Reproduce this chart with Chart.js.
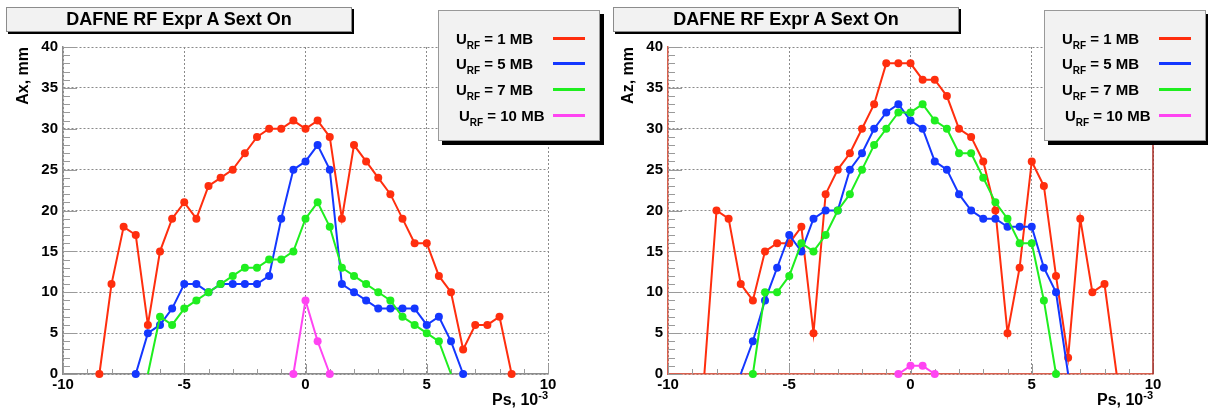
<!DOCTYPE html>
<html>
<head>
<meta charset="utf-8">
<script src="https://cdn.jsdelivr.net/npm/chart.js@4.4.1/dist/chart.umd.min.js"></script>
<style>
    body { margin: 0; background: #fff; font-family: "Liberation Sans", Arial, sans-serif; font-weight: bold; color: #000; }
    #wrap { position: relative; width: 1208px; height: 412px; overflow: hidden; }
    .panel { position: absolute; top: 0; width: 604px; height: 412px; }
    .panel canvas { position: absolute; left: 0; top: 0; }
    .title { position: absolute; top: 7px; width: 346px; height: 25px; box-sizing: border-box; background: #f2f2f2;
        border: 1px solid #8c8c8c; box-shadow: 2px 2px 0 #000; text-align: center; font-size: 18px; line-height: 23px; }
    .legend { position: absolute; top: 10px; left: 438px; width: 162px; height: 131px; box-sizing: border-box;
        background: #f2f2f2; border: 1px solid #999; box-shadow: 4px 4px 0 #000; }
    .legend .row { position: absolute; left: 0; width: 160px; height: 20px; }
    .legend .txt { position: absolute; left: 17px; top: 0; font-size: 15px; line-height: 20px; white-space: nowrap; }
    .legend sub { font-size: 10px; vertical-align: -5px; line-height: 0; }
    .legend .ln { position: absolute; left: 114px; top: 8px; width: 32px; height: 3px; }
    .ytitle { position: absolute; width: 100px; text-align: right; font-size: 16px; line-height: 18px;
        transform-origin: 0 0; transform: rotate(-90deg); white-space: nowrap; }
    .xtitle { position: absolute; top: 391px; font-size: 16px; line-height: 18px; white-space: nowrap; }
    .xtitle sup { font-size: 11px; vertical-align: 6px; line-height: 0; }
</style>
</head>
<body>
<div id="wrap">
    <div class="panel" id="pAx" style="left:0">
        <canvas id="cAx" width="604" height="412"></canvas>
        <div class="title" style="left:6px">DAFNE RF Expr A Sext On</div>
        <div class="ytitle" style="left:14px; top:147px">Ax, mm</div>
        <div class="xtitle" style="right:56px">Ps, 10<sup>-3</sup></div>
        <div class="legend" id="lAx"></div>
    </div>
    <div class="panel" id="pAz" style="left:604px">
        <canvas id="cAz" width="604" height="412"></canvas>
        <div class="title" style="left:9px">DAFNE RF Expr A Sext On</div>
        <div class="ytitle" style="left:15px; top:147px">Az, mm</div>
        <div class="xtitle" style="right:55px">Ps, 10<sup>-3</sup></div>
        <div class="legend" id="lAz" style="left:440px"></div>
    </div>
</div>
<script>
// Ps, 10^-3 : common grid for every series, null = no point
const ps = [-8.5, -8, -7.5, -7, -6.5, -6, -5.5, -5, -4.5, -4, -3.5, -3, -2.5, -2, -1.5, -1, -0.5,
    0, 0.5, 1, 1.5, 2, 2.5, 3, 3.5, 4, 4.5, 5, 5.5, 6, 6.5, 7, 7.5, 8, 8.5];

const urfLabels = ['1 MB', '5 MB', '7 MB', '10 MB'];
const urfColors = ['#ff2e0e', '#1437ff', '#1fee1f', '#ff44f2'];

const psRange = [-10, 10];
const ampRange = [0, 40];

// Ax, mm
const ax1 = [0, 11, 18, 17, 6, 15, 19, 21, 19, 23, 24, 25, 27, 29, 30, 30, 31,
    30, 31, 29, 19, 28, 26, 24, 22, 19, 16, 16, 12, 10, 3, 6, 6, 7, 0];
const ax5 = [null, null, null, 0, 5, 6, 8, 11, 11, 10, 11, 11, 11, 11, 12, 19, 25,
    26, 28, 25, 11, 10, 9, 8, 8, 8, 8, 6, 7, 4, 0, null, null, null, null];
const ax7 = [null, null, null, null, 0, 7, 6, 8, 9, 10, 11, 12, 13, 13, 14, 14, 15,
    19, 21, 18, 13, 12, 11, 10, 9, 7, 6, 5, 4, 0, null, null, null, null, null];
const ax10 = [null, null, null, null, null, null, null, null, null, null, null, null, null, null, null, null, 0,
    9, 4, 0, null, null, null, null, null, null, null, null, null, null, null, null, null, null, null];

// Az, mm
const az1 = [0, 20, 19, 11, 9, 15, 16, 16, 18, 5, 22, 25, 27, 30, 33, 38, 38,
    38, 36, 36, 34, 30, 29, 26, 20, 5, 13, 26, 23, 12, 2, 19, 10, 11, 0];
const az5 = [null, null, null, 0, 4, 9, 13, 17, 15, 19, 20, 20, 25, 27, 30, 32, 33,
    31, 30, 26, 25, 22, 20, 19, 19, 18, 18, 18, 13, 10, 0, null, null, null, null];
const az7 = [null, null, null, null, 0, 10, 10, 12, 16, 15, 17, 20, 22, 25, 28, 30, 32,
    32, 33, 31, 30, 27, 27, 24, 21, 19, 16, 16, 9, 0, null, null, null, null, null];
const az10 = [null, null, null, null, null, null, null, null, null, null, null, null, null, null, null, null, 0,
    1, 1, 0, null, null, null, null, null, null, null, null, null, null, null, null, null, null, null];

const tickFont = { family: "'Liberation Sans', Arial, sans-serif", size: 15, weight: 'bold' };

// ROOT style tick marks inside the frame, plus optional right frame line
const rootTicks = {
    id: 'rootTicks',
    beforeDatasetsDraw(chart, args, opts) {
        const { ctx, chartArea: a, scales: { x, y } } = chart;
        ctx.save();
        ctx.strokeStyle = '#9a9a9a';
        ctx.lineWidth = 1;
        ctx.beginPath();
        for (let v = x.min; v <= x.max; v++) {
            const px = Math.round(x.getPixelForValue(v)) + 0.5;
            const len = v % 5 === 0 ? 10 : 5;
            ctx.moveTo(px, a.bottom);
            ctx.lineTo(px, a.bottom - len);
        }
        for (let v = y.min; v <= y.max; v++) {
            const py = Math.round(y.getPixelForValue(v)) + 0.5;
            const len = v % 5 === 0 ? 14 : 7;
            ctx.moveTo(a.left, py);
            ctx.lineTo(a.left + len, py);
        }
        ctx.stroke();
        if (opts.frame) {
            ctx.strokeStyle = opts.frame;
            ctx.lineWidth = 1.5;
            ctx.beginPath();
            ctx.moveTo(a.right, a.top);
            ctx.lineTo(a.right, a.bottom);
            ctx.stroke();
        }
        ctx.restore();
    }
};

function toPoints(values) {
    return ps.map((p, i) => ({ x: p, y: values[i] })).filter(d => d.y !== null);
}

function buildLegend(id) {
    const box = document.getElementById(id);
    const rowTops = [18, 43, 69, 95];
    urfLabels.forEach((lab, i) => {
        const row = document.createElement('div');
        row.className = 'row';
        row.style.top = rowTops[i] + 'px';
        row.innerHTML = '<span class="txt"' + (i === 3 ? ' style="left:20px"' : '') + '>U<sub>RF</sub> = ' + lab + '</span>' +
            '<i class="ln" style="background:' + urfColors[i] + '"></i>';
        box.appendChild(row);
    });
}

function createChart(canvasId, series, endMarks, axisColor, frame, leftWidth, rightPad) {
    const datasets = series.map((vals, i) => ({
        label: urfLabels[i],
        data: toPoints(vals),
        borderColor: urfColors[i],
        backgroundColor: urfColors[i],
        pointBackgroundColor: urfColors[i],
        borderWidth: 2,
        pointBorderWidth: 0,
        pointRadius: ctx => (!endMarks[i] && ctx.raw && ctx.raw.y === 0) ? 0 : 4,
        tension: 0,
        clip: false,
        order: series.length - i,
    }));

    new Chart(document.getElementById(canvasId), {
        type: 'line',
        data: { datasets: datasets },
        options: {
            responsive: false,
            animation: false,
            events: [],
            layout: { padding: { top: 47, right: rightPad, bottom: 0, left: 0 } },
            plugins: {
                legend: { display: false },
                title: { display: false },
                tooltip: { enabled: false },
                rootTicks: { frame: frame },
            },
            scales: {
                x: {
                    type: 'linear',
                    min: psRange[0],
                    max: psRange[1],
                    ticks: { stepSize: 5, padding: 2, maxRotation: 0, color: '#000', font: tickFont },
                    grid: { color: '#8a8a8a', lineWidth: 1, drawTicks: false },
                    border: { display: true, color: axisColor, width: 1.5, dash: [2, 2] },
                    afterFit: s => { s.height = 38; },
                },
                y: {
                    min: ampRange[0],
                    max: ampRange[1],
                    ticks: { stepSize: 5, padding: 5, color: '#000', font: tickFont },
                    grid: { color: '#8a8a8a', lineWidth: 1, drawTicks: false },
                    border: { display: true, color: axisColor, width: 1.5, dash: [2, 2] },
                    afterFit: s => { s.width = leftWidth; },
                },
            },
        },
        plugins: [rootTicks],
    });
}

createChart('cAx', [ax1, ax5, ax7, ax10], [true, true, false, true], '#8c8c8c', null, 63, 56);
createChart('cAz', [az1, az5, az7, az10], [false, false, true, true], '#d8604e', '#a82a22', 64, 55);
buildLegend('lAx');
buildLegend('lAz');
</script>
</body>
</html>
